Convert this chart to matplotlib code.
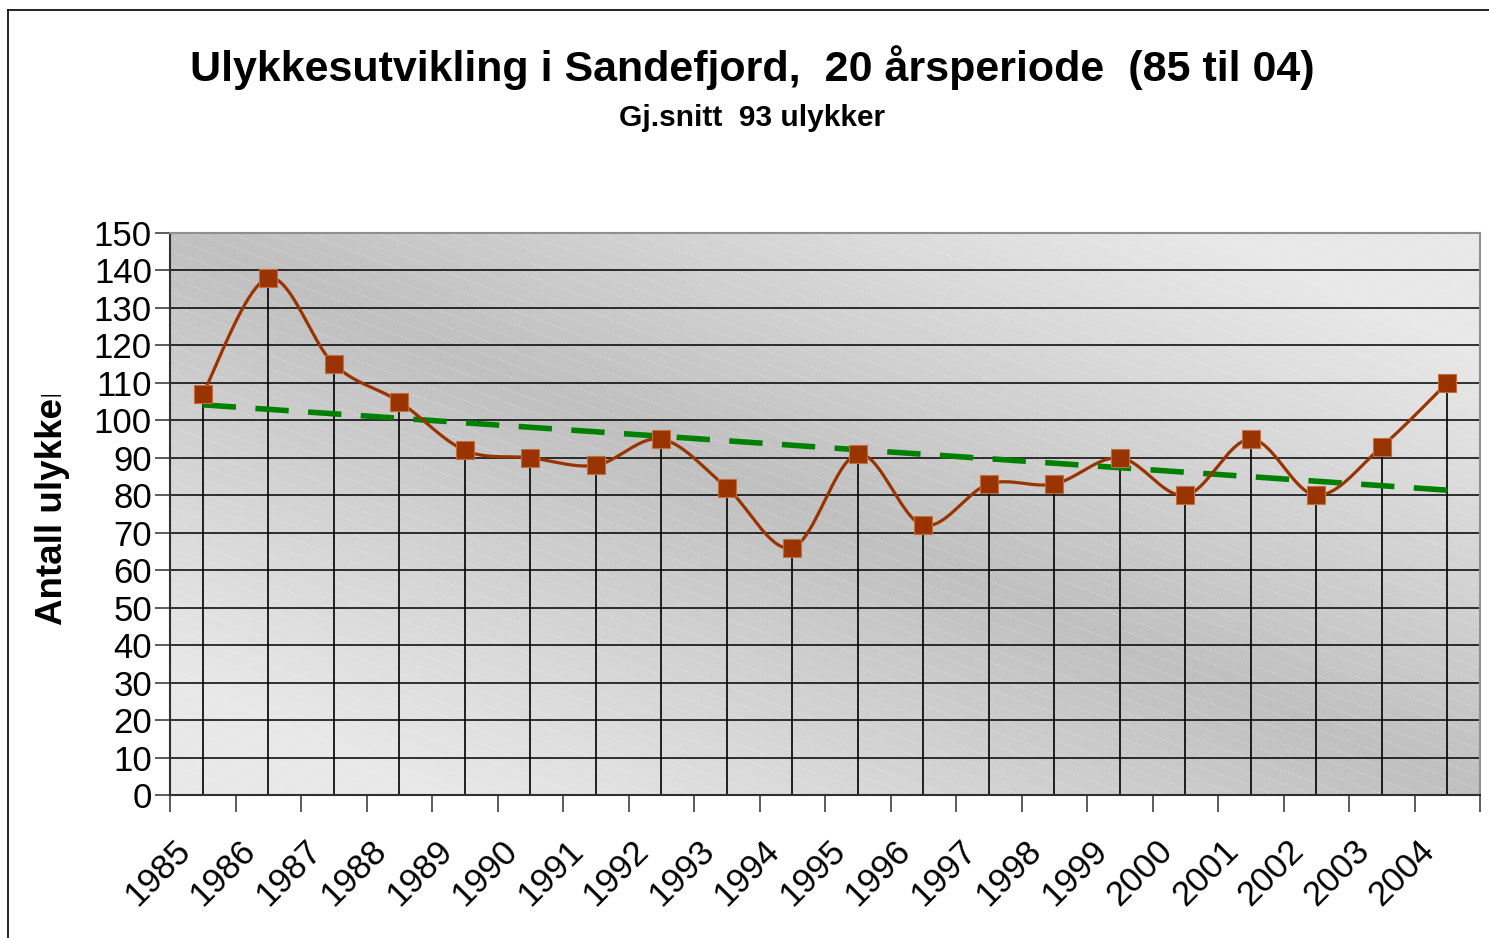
import matplotlib
matplotlib.use('Agg')

import matplotlib.pyplot as plt
import matplotlib.transforms as mtransforms
from matplotlib.lines import Line2D
from matplotlib.patches import Rectangle
from matplotlib.collections import LineCollection
import numpy as np

plt.rcParams['font.family'] = ['Liberation Sans', 'DejaVu Sans']

# data
years = ['1985', '1986', '1987', '1988', '1989', '1990', '1991', '1992', '1993', '1994',
         '1995', '1996', '1997', '1998', '1999', '2000', '2001', '2002', '2003', '2004']
ulykker = [107, 138, 115, 105, 92, 90, 88, 95, 82, 66,
           91, 72, 83, 83, 90, 80, 95, 80, 93, 110]
y_ticks = list(range(0, 151, 10))

title = "Ulykkesutvikling i Sandefjord,  20 årsperiode  (85 til 04)"
subtitle = "Gj.snitt  93 ulykker"
ylabel = "Antall ulykker"


def smooth(xs, ys, n=24):
    # bezier smoothing like the spreadsheet "smoothed line"
    xs = np.asarray(xs, float)
    ys = np.asarray(ys, float)
    px = np.concatenate([[xs[0]], xs, [xs[-1]]])
    py = np.concatenate([[ys[0]], ys, [ys[-1]]])
    out_x, out_y = [], []
    t = np.linspace(0, 1, n)
    for i in range(1, len(px) - 2):
        p0 = np.array([px[i - 1], py[i - 1]])
        p1 = np.array([px[i], py[i]])
        p2 = np.array([px[i + 1], py[i + 1]])
        p3 = np.array([px[i + 2], py[i + 2]])
        c1 = p1 + (p2 - p0) / 6
        c2 = p2 - (p3 - p1) / 6
        pts = (np.outer((1 - t) ** 3, p1) + np.outer(3 * (1 - t) ** 2 * t, c1)
               + np.outer(3 * (1 - t) * t ** 2, c2) + np.outer(t ** 3, p2))
        out_x.extend(pts[:, 0])
        out_y.extend(pts[:, 1])
    return np.array(out_x), np.array(out_y)


fig = plt.figure(figsize=(14.89, 9.38), dpi=100)
ax = fig.add_axes([170 / 1489, 1 - 795 / 938, 1310 / 1489, 562 / 938])

# background gradient
gx, gy = np.meshgrid(np.linspace(0, 1, 300), np.linspace(0, 1, 300))
g = 0.75 + 0.16 * np.clip(np.abs(gx - gy) * 1.25, 0, 1)
ax.imshow(g, cmap='gray', vmin=0, vmax=1, extent=[0, 1, 0, 1], transform=ax.transAxes,
          aspect='auto', zorder=0, origin='upper')

# faint diagonal texture
segs = []
for k in np.arange(-1.0, 2.5, 0.024):
    segs.append([(0, k), (1, k - 1310 * 0.37 / 562)])
lc = LineCollection(segs, colors='white', linewidths=0.6, alpha=0.35,
                    linestyles=(0, (3, 2)), transform=ax.transAxes, zorder=0.5)
lc.set_clip_path(Rectangle((0, 0), 1, 1, transform=ax.transAxes))
ax.add_collection(lc)

x = np.arange(len(years))
ax.set_xlim(-0.5, len(years) - 0.5)
ax.set_ylim(0, 150)

# grid
for v in y_ticks[1:]:
    ax.axhline(v, color='black', lw=1.1, zorder=1)

# drop lines
ax.vlines(x, 0, ulykker, color='black', lw=1.2, zorder=1.5)

# trend line
coef = np.polyfit(x, ulykker, 1)
ax.plot([x[0], x[-1]], np.polyval(coef, [x[0], x[-1]]), color='#008000', lw=4,
        dashes=(6, 3.5), zorder=3)

sx, sy = smooth(x, ulykker)
ax.plot(sx, sy, color='#993300', lw=2.3, zorder=4)
ax.plot(x, ulykker, linestyle='none', marker='s', markersize=13, color='#993300',
        markeredgecolor='#c0703f', markeredgewidth=0.8, zorder=5)

# axes
ax.set_yticks(y_ticks)
ax.set_yticklabels([str(v) for v in y_ticks], fontsize=25)
ax.tick_params(axis='y', length=11, width=1.2, pad=2, color='#404040')
ax.set_xticks(np.arange(-0.5, len(years), 1))
ax.set_xticklabels([])
ax.set_xticks(x, minor=True)
ax.set_xticklabels(years, minor=True, fontsize=25, rotation=45, ha='right')
ax.tick_params(axis='x', which='major', length=12, width=1.2, color='#404040')
ax.tick_params(axis='x', which='minor', length=0, pad=28)
offset = mtransforms.ScaledTranslation(-0.06, 0, fig.dpi_scale_trans)
for lab in ax.get_xticklabels(minor=True):
    lab.set_transform(lab.get_transform() + offset)

ax.spines['left'].set_color('#303030')
ax.spines['bottom'].set_color('#303030')
ax.spines['top'].set_color('#909090')
ax.spines['right'].set_color('#909090')
for s in ax.spines.values():
    s.set_linewidth(1.5)

# titles
fig.text(752 / 1489, 1 - 68 / 938, title, fontsize=31, fontweight='bold',
         ha='center', va='center')
fig.text(752 / 1489, 1 - 118 / 938, subtitle, fontsize=21.5, fontweight='bold',
         ha='center', va='center')

yl = fig.text(52 / 1489, 1 - 625 / 938, ylabel, fontsize=26.5, fontweight='bold',
              rotation=90, ha='center', va='bottom')
yl.set_clip_on(True)
yl.set_clip_path(Rectangle((0, 0), 1, 1 - 395 / 938, transform=fig.transFigure))

# chart frame
fig.add_artist(Line2D([8 / 1489, 1], [1 - 10 / 938, 1 - 10 / 938], color='black', lw=1.2,
                      transform=fig.transFigure))
fig.add_artist(Line2D([8 / 1489, 8 / 1489], [0, 1 - 10 / 938], color='black', lw=1.2,
                      transform=fig.transFigure))

fig.savefig('out.png', dpi=100)
